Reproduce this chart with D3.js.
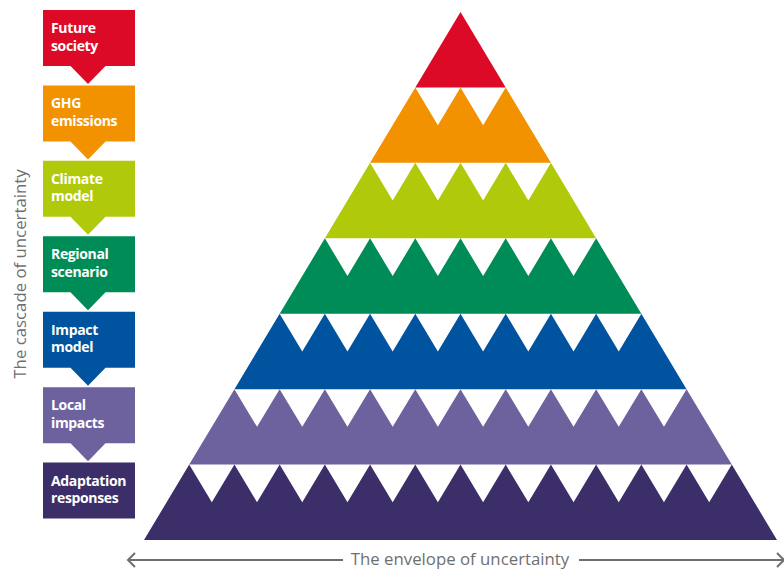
<!DOCTYPE html>
<html>
<head>
<meta charset="utf-8">
<script src="https://cdn.jsdelivr.net/npm/d3@7"></script>
<style>
  html, body { margin: 0; padding: 0; background: #fff; }
  svg { display: block; font-family: "Open Sans", "Noto Sans", sans-serif; }
</style>
</head>
<body>
<svg id="chart" width="784" height="570"></svg>
<script>
// cascade levels, top to bottom
const stages = [
  ["Future", "society"],
  ["GHG", "emissions"],
  ["Climate", "model"],
  ["Regional", "scenario"],
  ["Impact", "model"],
  ["Local", "impacts"],
  ["Adaptation", "responses"]
];
const stageColors = ["#dc0a26", "#f39200", "#b0ca0b", "#008c56", "#00539e", "#6e629e", "#3c2f69"];
// white notches cut into the top of each band
const notchCounts = [0, 2, 4, 6, 8, 10, 12];

const Y_TITLE = "The cascade of uncertainty";
const X_TITLE = "The envelope of uncertainty";
const GREY = "#6f6f6f";

const svg = d3.select("#chart");
const n = stages.length;

// level -> vertical pos, half-width units -> horizontal pos
const y = d3.scaleLinear().domain([0, n]).range([12, 540]);
const x = d3.scaleLinear().domain([-n, n]).range([144, 777]);

function bandPath(k) {
  const pts = [[-k, k]];
  for (let i = 0; i < notchCounts[k]; i++) {
    pts.push([-k + i + 0.5, k + 0.5]);
    pts.push([-k + i + 1, k]);
  }
  pts.push([k + 1, k + 1], [-(k + 1), k + 1]);
  return "M" + pts.map(p => x(p[0]) + "," + y(p[1])).join("L") + "Z";
}

svg.append("g").attr("class", "pyramid")
  .selectAll("path")
  .data(stages)
  .join("path")
  .attr("d", (d, k) => bandPath(k))
  .attr("fill", (d, k) => stageColors[k]);

// label boxes on the left
const BOX_X = 43, BOX_W = 92, BOX_H = 56, PTR_W = 35, PTR_H = 18;
const boxes = svg.append("g").attr("class", "boxes")
  .selectAll("g")
  .data(stages)
  .join("g")
  .attr("transform", (d, k) => `translate(${BOX_X},${y(k) - 2})`);

boxes.append("path")
  .attr("d", (d, k) => {
    const cx = BOX_W / 2 - 1;
    let p = `M0,0H${BOX_W}V${BOX_H}`;
    if (k < n - 1) p += `H${cx + PTR_W / 2}L${cx},${BOX_H + PTR_H}L${cx - PTR_W / 2},${BOX_H}`;
    return p + "H0Z";
  })
  .attr("fill", (d, k) => stageColors[k]);

boxes.each(function(d) {
  const g = d3.select(this);
  d.forEach((line, j) => {
    g.append("text")
      .attr("x", 8)
      .attr("y", 23 + j * 17.5)
      .attr("fill", "#fff")
      .attr("font-size", "14px")
      .attr("font-weight", 700)
      .attr("letter-spacing", "-0.35px")
      .text(line);
  });
});

// vertical title
svg.append("text")
  .attr("transform", "translate(26,274) rotate(-90)")
  .attr("text-anchor", "middle")
  .attr("fill", GREY)
  .attr("font-size", "16.8px")
  .text(Y_TITLE);

// horizontal double arrow with title
const ay = 560;
const arrow = svg.append("g").attr("stroke", GREY).attr("stroke-width", 2).attr("fill", "none");
arrow.append("line").attr("x1", 128).attr("x2", 343).attr("y1", ay).attr("y2", ay);
arrow.append("line").attr("x1", 579).attr("x2", 783).attr("y1", ay).attr("y2", ay);
arrow.append("path").attr("d", `M135,${ay - 7}L128,${ay}L135,${ay + 7}`);
arrow.append("path").attr("d", `M777,${ay - 7}L784,${ay}L777,${ay + 7}`);

svg.append("text")
  .attr("x", 460)
  .attr("y", 565)
  .attr("text-anchor", "middle")
  .attr("fill", GREY)
  .attr("font-size", "16.8px")
  .text(X_TITLE);
</script>
</body>
</html>
